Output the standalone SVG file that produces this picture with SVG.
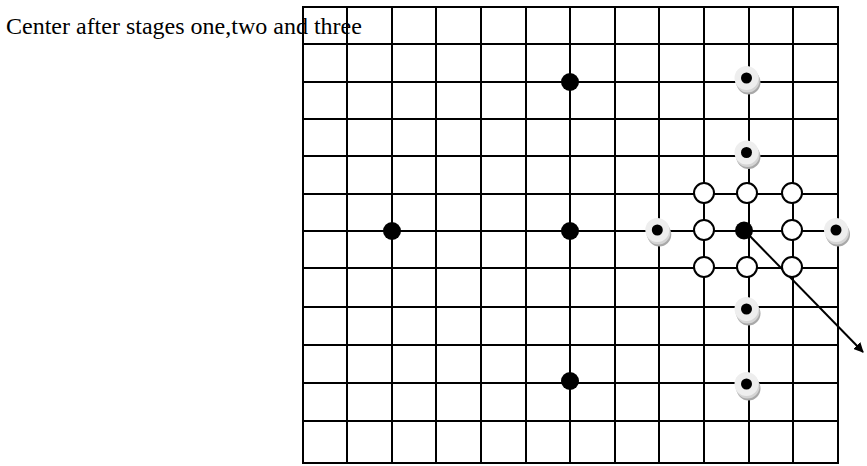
<svg xmlns="http://www.w3.org/2000/svg" width="867" height="466" viewBox="0 0 867 466">
<style>
.grid{fill:none;stroke:#000;stroke-width:2}
.stone{fill:#000}
.open{fill:#fff;stroke:#000;stroke-width:2}
.conn{fill:none;stroke:#000;stroke-width:2}
.label{font-family:"Liberation Serif","Times New Roman",serif;font-size:24px;fill:#000}
</style>
<defs>
<g id="target">
<circle cx="2" cy="4.5" r="12" fill="#a8a8a8"/>
<circle cx="1" cy="2.5" r="12" fill="#d4d4d4"/>
<circle cx="0" cy="0" r="12" fill="#eeeeee"/>
<circle cx="0" cy="0" r="5.5" fill="#000"/>
</g>
<marker id="arrow" viewBox="0 0 10 10" refX="9" refY="5" markerWidth="5" markerHeight="5" orient="auto" markerUnits="strokeWidth">
<path d="M0,0 L10,5 L0,10 z" fill="#000"/>
</marker>
</defs>
<text class="label" x="6" y="34">Center after stages one,two and three</text>
<g id="grid">
<rect class="grid" x="303" y="7" width="535" height="456"/>
<path class="grid" d="M347,7V463M392,7V463M436,7V463M481,7V463M526,7V463M570,7V463M615,7V463M659,7V463M704,7V463M749,7V463M793,7V463
M303,44H838M303,82H838M303,119H838M303,156H838M303,194H838M303,231H838M303,268H838M303,307H838M303,345H838M303,383H838M303,421H838"/>
</g>
<g id="connectors">
<path class="conn" d="M744,230 L863,352" marker-end="url(#arrow)"/>
</g>
<g id="stone-top"><circle class="stone" cx="570" cy="82" r="9"/></g>
<g id="stone-left"><circle class="stone" cx="392" cy="231" r="9"/></g>
<g id="stone-mid"><circle class="stone" cx="570" cy="231" r="9"/></g>
<g id="stone-bottom"><circle class="stone" cx="570" cy="381" r="9"/></g>
<g id="open-1"><circle class="open" cx="704" cy="193" r="10"/></g>
<g id="open-2"><circle class="open" cx="747" cy="193" r="10"/></g>
<g id="open-3"><circle class="open" cx="792" cy="193" r="10"/></g>
<g id="open-4"><circle class="open" cx="704" cy="230" r="10"/></g>
<g id="open-5"><circle class="open" cx="792" cy="230" r="10"/></g>
<g id="open-6"><circle class="open" cx="704" cy="267" r="10"/></g>
<g id="open-7"><circle class="open" cx="747" cy="267" r="10"/></g>
<g id="open-8"><circle class="open" cx="792" cy="267" r="10"/></g>
<g id="center"><circle class="stone" cx="744" cy="230.5" r="9"/></g>
<g id="target-1"><use href="#target" x="746.5" y="78"/></g>
<g id="target-2"><use href="#target" x="746.5" y="152.5"/></g>
<g id="target-3"><use href="#target" x="657.3" y="230"/></g>
<g id="target-4"><use href="#target" x="836" y="230"/></g>
<g id="target-5"><use href="#target" x="746.5" y="309"/></g>
<g id="target-6"><use href="#target" x="746.5" y="384"/></g>
</svg>
